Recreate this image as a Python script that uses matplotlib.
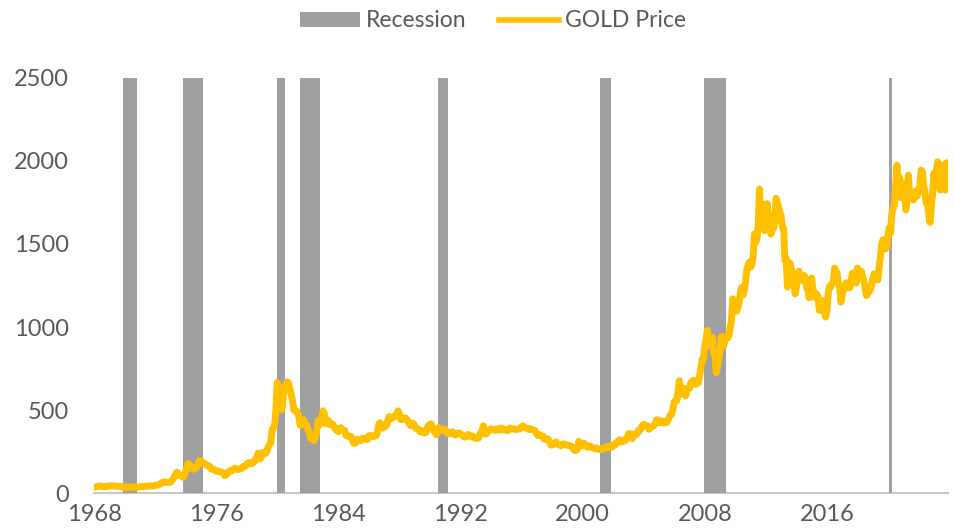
import numpy as np
import matplotlib.pyplot as plt
from matplotlib.patches import Patch
from matplotlib.lines import Line2D

plt.rcParams["font.family"] = ["Lato", "DejaVu Sans"]

# Monthly gold price (USD/oz), one row per year starting January 1968
gold_price = [
    35, 35, 38, 40, 42, 41, 39, 39, 40, 39, 38, 41,  # 1968
    42, 43, 43, 43, 43, 41, 42, 41, 41, 40, 36, 35,  # 1969
    35, 35, 35, 36, 36, 35, 35, 35, 36, 37, 37, 37,  # 1970
    38, 39, 39, 39, 40, 40, 41, 42, 42, 42, 43, 43,  # 1971
    46, 48, 48, 49, 54, 60, 65, 68, 65, 64, 63, 64,  # 1972
    65, 74, 84, 95, 110, 125, 118, 106, 103, 100, 94, 106,  # 1973
    129, 165, 178, 172, 163, 150, 143, 154, 151, 158, 181, 195,  # 1974
    180, 185, 182, 178, 170, 166, 165, 160, 144, 143, 142, 139,  # 1975
    132, 132, 133, 128, 127, 124, 115, 104, 114, 117, 130, 134,  # 1976
    133, 137, 148, 149, 146, 141, 143, 145, 149, 159, 161, 161,  # 1977
    173, 179, 184, 175, 177, 183, 188, 206, 212, 240, 206, 208,  # 1978
    227, 245, 242, 239, 257, 279, 295, 301, 380, 392, 410, 500,  # 1979
    665, 620, 553, 500, 513, 600, 645, 627, 670, 661, 623, 594,  # 1980
    557, 500, 499, 495, 480, 460, 409, 410, 443, 437, 413, 410,  # 1981
    384, 374, 330, 350, 334, 315, 339, 364, 436, 422, 415, 444,  # 1982
    495, 480, 419, 432, 438, 413, 422, 416, 412, 394, 382, 388,  # 1983
    370, 385, 394, 381, 377, 378, 348, 348, 341, 340, 341, 320,  # 1984
    300, 299, 304, 325, 316, 317, 317, 330, 324, 326, 325, 322,  # 1985
    345, 339, 346, 340, 342, 343, 348, 376, 418, 423, 398, 391,  # 1986
    408, 401, 409, 438, 460, 450, 450, 460, 460, 465, 480, 495,  # 1987
    477, 442, 443, 452, 451, 452, 437, 433, 413, 406, 420, 419,  # 1988
    404, 388, 390, 384, 371, 367, 375, 365, 362, 367, 394, 409,  # 1989
    410, 417, 393, 374, 369, 352, 362, 395, 389, 380, 381, 378,  # 1990
    384, 363, 363, 358, 357, 367, 368, 356, 349, 359, 360, 361,  # 1991
    354, 354, 345, 338, 337, 341, 353, 343, 345, 344, 335, 334,  # 1992
    329, 329, 330, 342, 367, 372, 405, 378, 355, 364, 374, 383,  # 1993
    387, 382, 384, 377, 381, 386, 385, 380, 391, 389, 384, 379,  # 1994
    379, 376, 382, 391, 385, 387, 386, 383, 383, 383, 386, 387,  # 1995
    400, 405, 396, 393, 392, 385, 383, 387, 383, 381, 378, 369,  # 1996
    355, 346, 352, 344, 344, 341, 324, 324, 323, 325, 306, 289,  # 1997
    289, 297, 296, 308, 299, 292, 293, 284, 289, 296, 294, 291,  # 1998
    287, 288, 286, 282, 277, 261, 256, 257, 265, 311, 293, 284,  # 1999
    284, 300, 286, 280, 275, 285, 282, 275, 273, 270, 266, 272,  # 2000
    266, 262, 263, 261, 272, 270, 268, 273, 283, 283, 276, 276,  # 2001
    282, 296, 294, 303, 314, 321, 314, 307, 319, 317, 319, 333,  # 2002
    357, 359, 340, 328, 355, 356, 351, 360, 379, 379, 389, 407,  # 2003
    414, 405, 406, 404, 384, 392, 398, 400, 406, 420, 439, 442,  # 2004
    424, 423, 434, 429, 422, 431, 424, 438, 457, 470, 476, 510,  # 2005
    549, 555, 557, 610, 676, 596, 633, 632, 598, 585, 627, 629,  # 2006
    631, 665, 655, 679, 667, 655, 665, 665, 712, 754, 806, 803,  # 2007
    889, 922, 980, 909, 888, 889, 939, 839, 829, 725, 760, 816,  # 2008
    858, 943, 924, 890, 928, 946, 934, 949, 996, 1043, 1170, 1134,  # 2009
    1118, 1095, 1113, 1148, 1205, 1240, 1193, 1215, 1271, 1343, 1370, 1391,  # 2010
    1360, 1374, 1424, 1560, 1510, 1529, 1620, 1830, 1620, 1720, 1740, 1580,  # 2011
    1656, 1743, 1674, 1650, 1560, 1596, 1594, 1630, 1775, 1747, 1721, 1688,  # 2012
    1671, 1600, 1593, 1400, 1414, 1240, 1286, 1385, 1349, 1316, 1275, 1200,  # 2013
    1244, 1300, 1336, 1299, 1287, 1279, 1311, 1296, 1239, 1222, 1176, 1201,  # 2014
    1295, 1227, 1179, 1198, 1199, 1181, 1100, 1117, 1125, 1159, 1086, 1060,  # 2015
    1097, 1200, 1246, 1243, 1260, 1276, 1355, 1341, 1326, 1267, 1238, 1150,  # 2016
    1192, 1234, 1231, 1266, 1246, 1260, 1237, 1283, 1325, 1280, 1283, 1265,  # 2017
    1355, 1331, 1324, 1335, 1303, 1282, 1238, 1190, 1198, 1215, 1221, 1250,  # 2018
    1292, 1320, 1301, 1286, 1284, 1359, 1420, 1500, 1525, 1495, 1470, 1480,  # 2019
    1560, 1597, 1565, 1683, 1716, 1732, 1846, 1975, 1890, 1900, 1780, 1858,  # 2020
    1867, 1808, 1705, 1760, 1915, 1780, 1807, 1785, 1765, 1777, 1821, 1790,  # 2021
    1817, 1856, 1945, 1937, 1849, 1820, 1745, 1764, 1681, 1630, 1726, 1798,  # 2022
    1925, 1860, 1940, 1995, 1960, 1825, 1940, 1975, 1900, 1825, 1990,  # 2023
]

# NBER recession periods (start, end) as decimal years
recession_start = [1969.92, 1973.83, 1980.0, 1981.5, 1990.5, 2001.17, 2007.92, 2020.08]
recession_end = [1970.83, 1975.17, 1980.5, 1982.83, 1991.17, 2001.83, 2009.42, 2020.25]

year_ticks = [1968, 1976, 1984, 1992, 2000, 2008, 2016]
price_ticks = [0, 500, 1000, 1500, 2000, 2500]

GOLD = "#FFC000"
GREY = "#A0A0A0"
TEXT = "#595959"

dates = 1968 + np.arange(len(gold_price)) / 12

fig = plt.figure(figsize=(9.55, 5.29), dpi=100)
ax = fig.add_axes([0.0984, 0.068, 0.8943, 0.7846])

for start, end in zip(recession_start, recession_end):
    ax.axvspan(start, end, color=GREY, lw=0, zorder=1)

ax.plot(dates, gold_price, color=GOLD, lw=5, solid_joinstyle="round",
        solid_capstyle="round", zorder=3)

ax.set_xlim(1968, 2023.93)
ax.set_ylim(0, 2500)
ax.set_xticks(year_ticks)
ax.set_yticks(price_ticks)
ax.tick_params(axis="both", length=0, labelsize=17, labelcolor=TEXT)
ax.tick_params(axis="y", pad=18)
ax.tick_params(axis="x", pad=8)

for side in ["top", "right", "left"]:
    ax.spines[side].set_visible(False)
ax.spines["bottom"].set_color("#C8C8C8")
ax.spines["bottom"].set_linewidth(1.5)
ax.spines["bottom"].set_zorder(0)

handles = [
    Patch(facecolor=GREY, edgecolor="none", label="Recession"),
    Line2D([], [], color=GOLD, lw=4, label="GOLD Price"),
]
fig.legend(handles=handles, loc="center", bbox_to_anchor=(493 / 955, 1 - 21 / 529),
           ncol=2, frameon=False, fontsize=16.5, labelcolor=TEXT,
           handlelength=2.6, handleheight=0.65, handletextpad=0.25,
           columnspacing=1.45)

fig.savefig("out.png", dpi=100)
